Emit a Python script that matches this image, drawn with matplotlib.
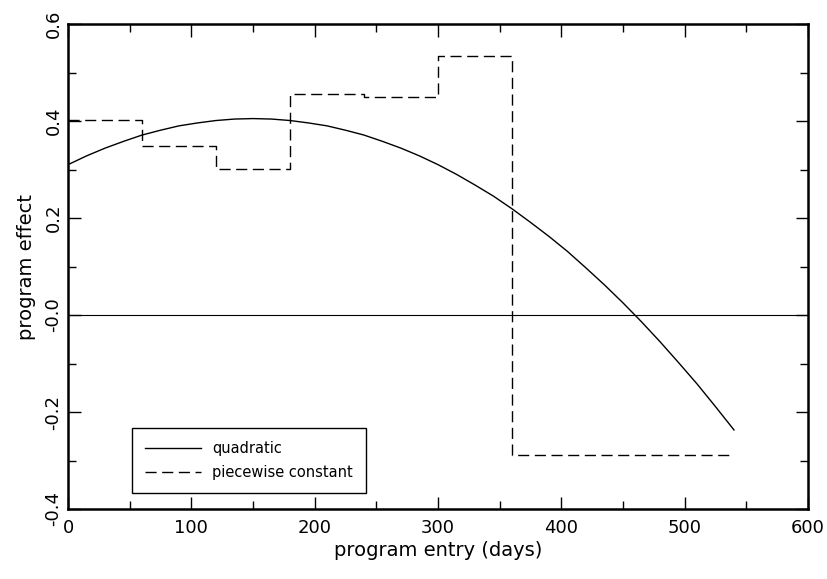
import matplotlib
matplotlib.use("Agg")
import matplotlib.pyplot as plt

# quadratic fit
quad_days = [0, 15, 30, 45, 60, 75, 90, 105, 120, 135, 150, 165, 180, 195,
             210, 225, 240, 255, 270, 285, 300, 315, 330, 345, 360, 375,
             390, 405, 420, 435, 450, 465, 480, 495, 510, 525, 540]
quad_effect = [0.310, 0.328, 0.344, 0.358, 0.371, 0.381, 0.390, 0.396,
               0.401, 0.404, 0.405, 0.404, 0.401, 0.396, 0.390, 0.381,
               0.371, 0.358, 0.344, 0.328, 0.310, 0.290, 0.268, 0.245,
               0.219, 0.191, 0.162, 0.131, 0.097, 0.062, 0.025, -0.014,
               -0.055, -0.098, -0.142, -0.189, -0.237]

# piecewise constant, bin edges and levels
pw_edges = [0, 60, 120, 180, 240, 300, 360, 540]
pw_effect = [0.402, 0.348, 0.301, 0.456, 0.449, 0.534, -0.289]

xticks = [0, 100, 200, 300, 400, 500, 600]
yticks = [-0.4, -0.2, 0.0, 0.2, 0.4, 0.6]
ytick_labels = ["-0.4", "-0.2", "-0.0", "0.2", "0.4", "0.6"]

plt.rcParams["font.family"] = "DejaVu Sans"
fig = plt.figure(figsize=(8.27, 5.79), dpi=100)
ax = fig.add_axes([68 / 827, 70 / 579, 740 / 827, 485 / 579])

ax.plot(quad_days, quad_effect, color="black", lw=1.0, label="quadratic")
ax.plot(pw_edges, pw_effect + [pw_effect[-1]], color="black", lw=1.0,
        ls=(0, (8, 4)), drawstyle="steps-post", label="piecewise constant")
ax.axhline(0, color="black", lw=0.8)

ax.set_xlim(0, 600)
ax.set_ylim(-0.4, 0.6)
ax.set_xticks(xticks)
ax.set_xticks(range(50, 600, 100), minor=True)
ax.set_yticks(yticks)
ax.set_yticklabels(ytick_labels, rotation=90, va="center")
ax.set_yticks([-0.3, -0.1, 0.1, 0.3, 0.5], minor=True)
ax.tick_params(which="both", direction="in", top=True, right=True,
               labelsize=13, width=1.0, color="black")
ax.tick_params(which="major", length=9)
ax.tick_params(axis="x", which="major", pad=7)
ax.tick_params(axis="y", which="major", pad=4)
ax.tick_params(which="minor", length=6)
for s in ax.spines.values():
    s.set_linewidth(1.8)

ax.set_xlabel("program entry (days)", fontsize=14, labelpad=3)
ax.set_ylabel("program effect", fontsize=14, labelpad=6)

leg = ax.legend(loc="lower left", bbox_to_anchor=(0.0865, 0.033),
                fancybox=False, framealpha=1, edgecolor="black",
                fontsize=10.5, handlelength=3.8, borderpad=0.9,
                labelspacing=0.6, borderaxespad=0, handletextpad=0.8)
leg.get_frame().set_linewidth(1.0)

fig.savefig("out.png", dpi=100)
